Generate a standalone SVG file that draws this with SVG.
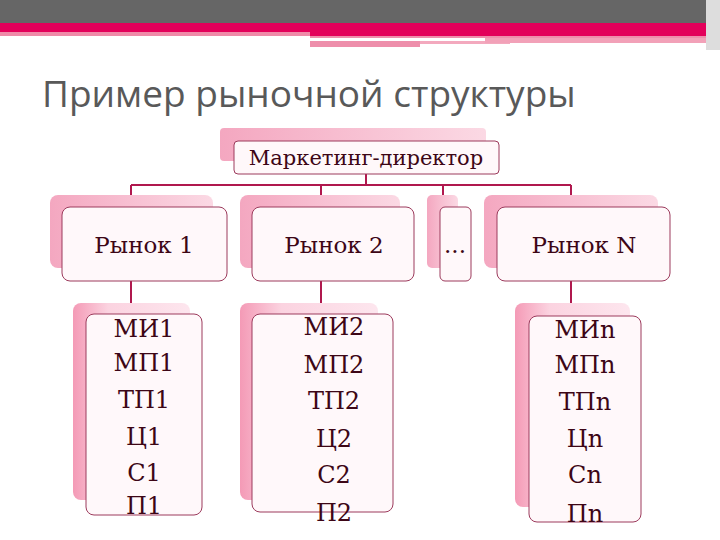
<svg xmlns="http://www.w3.org/2000/svg" width="720" height="540" viewBox="0 0 720 540">
<defs>
<linearGradient id="sh" x1="0" y1="0" x2="1" y2="0"><stop offset="0" stop-color="#f4a7c0"/><stop offset="1" stop-color="#fbd9e4"/></linearGradient>
<linearGradient id="shv" x1="0" y1="0" x2="1" y2="0"><stop offset="0" stop-color="#f49ab6"/><stop offset="0.3" stop-color="#fbd3e0"/><stop offset="1" stop-color="#fde6ee"/></linearGradient>
</defs>
<style>
.s{fill:url(#sh)}
.sv{fill:url(#shv)}
.b{fill:#fff8fa;stroke:#9c3a5c;stroke-width:1}
.t{font-family:"DejaVu Serif","Liberation Serif",serif;fill:#3d0616;text-anchor:middle}
.c{stroke:#b0184e;stroke-width:2;fill:none}
</style>
<rect width="720" height="540" fill="#fff"/>
<rect x="0" y="0" width="720" height="23" fill="#666"/>
<rect x="0" y="23" width="720" height="9" fill="#e3005a"/>
<rect x="0" y="32" width="310" height="4" fill="#ef8aa8"/>
<rect x="310" y="32" width="400" height="4" fill="#e3005a"/>
<rect x="310" y="36" width="400" height="2" fill="#ee8eab"/>
<rect x="310" y="38" width="175" height="3" fill="#fff"/>
<rect x="310" y="41" width="110" height="6" fill="#ee8eab"/>
<rect x="420" y="41" width="90" height="3" fill="#f3a9be"/>
<rect x="485" y="38" width="225" height="5" fill="#f2a1b8"/>
<rect x="706" y="0" width="14" height="50" fill="#ddd"/>
<text x="42" y="107" font-family="'Open Sans','DejaVu Sans',sans-serif" font-size="37" fill="#595959">Пример рыночной структуры</text>
<g id="connectors">
<path class="c" d="M366 174V185M131 185H571M131 185V207M321 185V207M443 185V207M571 185V207M131 281V303M321 281V303M571 281V303"/>
</g>
<g id="director"><rect class="s" x="220" y="128" width="266" height="33" rx="4"/><rect class="b" x="234" y="141" width="265" height="33" rx="4"/><text class="t" x="366" y="165" font-size="21">Маркетинг-директор</text></g>
<g id="m1"><rect class="s" x="50" y="195" width="163" height="73" rx="8"/><rect class="b" x="62" y="207" width="165" height="74" rx="8"/><text class="t" x="144" y="253" font-size="23">Рынок 1</text></g>
<g id="m2"><rect class="s" x="240" y="195" width="160" height="73" rx="8"/><rect class="b" x="252" y="207" width="162" height="74" rx="8"/><text class="t" x="334" y="253" font-size="23">Рынок 2</text></g>
<g id="mdots"><rect class="s" x="427" y="195" width="31" height="73" rx="5"/><rect class="b" x="440" y="207" width="31" height="74" rx="5"/><text class="t" x="455" y="253" font-size="23">...</text></g>
<g id="mN"><rect class="s" x="484" y="195" width="174" height="73" rx="8"/><rect class="b" x="497" y="207" width="173" height="74" rx="8"/><text class="t" x="584" y="253" font-size="23">Рынок N</text></g>
<g id="c1"><rect class="sv" x="73" y="303" width="117" height="197" rx="8"/><rect class="b" x="86" y="314" width="116" height="201" rx="8"/>
<g class="t" font-size="24"><text x="144" y="337">МИ1</text><text x="144" y="371">МП1</text><text x="144" y="408">ТП1</text><text x="144" y="445">Ц1</text><text x="144" y="481">С1</text><text x="144" y="514">П1</text></g></g>
<g id="c2"><rect class="sv" x="240" y="303" width="138" height="197" rx="8"/><rect class="b" x="252" y="314" width="141" height="198" rx="8"/>
<g class="t" font-size="24"><text x="334" y="335">МИ2</text><text x="334" y="373">МП2</text><text x="334" y="409">ТП2</text><text x="334" y="447">Ц2</text><text x="334" y="483">С2</text><text x="334" y="521">П2</text></g></g>
<g id="c3"><rect class="sv" x="515" y="303" width="115" height="204" rx="8"/><rect class="b" x="529" y="316" width="112" height="206" rx="8"/>
<g class="t" font-size="24"><text x="585" y="338">МИn</text><text x="585" y="373">МПn</text><text x="585" y="410">ТПn</text><text x="585" y="447">Цn</text><text x="585" y="483">Сn</text><text x="585" y="522">Пn</text></g></g>
</svg>
